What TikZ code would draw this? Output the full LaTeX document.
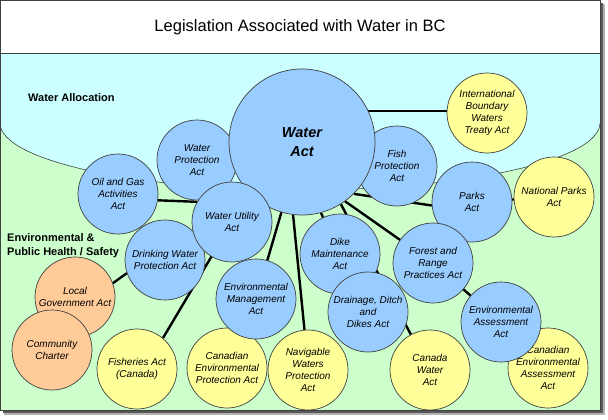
\documentclass[tikz,border=0pt]{standalone}
\usepackage{fontspec}
\setmainfont{Liberation Sans}
\definecolor{cblue}{HTML}{99CCFF}
\definecolor{cyellow}{HTML}{FFFF99}
\definecolor{corange}{HTML}{FFCC99}
\definecolor{ccyan}{HTML}{CCFFFF}
\definecolor{cgreen}{HTML}{CCFFCC}
\definecolor{outl}{HTML}{404040}
\pgfdeclarelayer{bg}
\pgfdeclarelayer{lines}
\pgfsetlayers{bg,lines,main}
\tikzset{
  act/.style={circle, draw=outl, line width=0.7pt, minimum size=80pt, inner sep=0pt, align=center, font=\fontsize{10}{12}\selectfont\itshape},
  blueact/.style={act, fill=cblue},
  yellowact/.style={act, fill=cyellow},
  orangeact/.style={act, fill=corange},
  link/.style={line width=2.4pt, black},
  sect/.style={font=\fontsize{11}{14}\selectfont\bfseries, inner sep=0pt, align=left}
}
\begin{document}
\begin{tikzpicture}[x=1pt,y=1pt]
\useasboundingbox (0,0) rectangle (608,-420);
\begin{pgfonlayer}{bg}
  \fill[black!30] (4,-4) rectangle (605,-415);
  \fill[black!65] (3,-3) rectangle (603,-413);
  \fill[cgreen] (0,0) rectangle (600,-410);
  \fill[ccyan] (0,-53) -- (600,-53) -- (600,-123) arc[start angle=0,end angle=-180,x radius=300,y radius=67] -- cycle;
  \draw[outl, line width=0.6pt] (600,-123) arc[start angle=0,end angle=-180,x radius=300,y radius=67];
  \fill[white] (0,0) rectangle (600,-53);
  \draw[outl, line width=0.6pt] (0,-53) -- (600,-53);
  \draw[outl, line width=0.8pt] (0.4,-0.4) rectangle (600,-410);
\end{pgfonlayer}

\node (title) at (300,-27) {\fontsize{16.5}{19}\selectfont Legislation Associated with Water in BC};
\node[sect, anchor=west] (alloc) at (28,-98) {Water Allocation};
\node[sect, anchor=west] (envh) at (7,-246) {Environmental \&\\Public Health / Safety};

% yellow and orange
\node[yellowact] (intl) at (487,-113) {International\\Boundary\\Waters\\Treaty Act};
\node[yellowact] (np) at (554,-197) {National Parks\\Act};
\node[yellowact] (fisheries) at (137,-369) {Fisheries Act\\(Canada)};
\node[yellowact] (cep) at (227,-368) {Canadian\\Environmental\\Protection Act};
\node[yellowact] (nav) at (308,-370) {Navigable\\Waters\\Protection\\Act};
\node[yellowact] (cw) at (430,-370) {Canada\\Water\\Act};
\node[yellowact] (cea) at (548,-368) {Canadian\\Environmental\\Assessment\\Act};
\node[orangeact] (local) at (75,-297) {Local\\Government Act};
\node[orangeact] (comm) at (52,-350) {Community\\Charter};

% blue
\node[blueact] (wp) at (197,-160) {Water\\Protection\\Act};
\node[blueact] (fish) at (397,-166) {Fish\\Protection\\Act};
\node[blueact, minimum size=146pt, font=\fontsize{14.5}{19}\selectfont\bfseries\itshape] (wa) at (302,-142) {Water\\Act};
\node[blueact] (oil) at (118,-194) {Oil and Gas\\Activities\\Act};
\node[blueact] (drink) at (165,-260) {Drinking Water\\Protection Act};
\node[blueact] (util) at (232,-222) {Water Utility\\Act};
\node[blueact] (envm) at (256,-299) {Environmental\\Management\\Act};
\node[blueact] (parks) at (472,-202) {Parks\\Act};
\node[blueact] (dike) at (340,-254) {Dike\\Maintenance\\Act};
\node[blueact] (drain) at (368,-312) {Drainage, Ditch\\and\\Dikes Act};
\node[blueact] (forest) at (433,-263) {Forest and\\Range\\Practices Act};
\node[blueact] (ea) at (501,-322) {Environmental\\Assessment\\Act};

\begin{pgfonlayer}{lines}
  \draw[link] (wa.25) -- (wa.25 -| intl.west);
  \draw[link] (wa.-45) -- (parks.185);
  \draw[link] (wa.-54) -- (forest.center);
  \draw[link] (forest.center) -- (ea.center);
  \draw[link] (wa.-58) -- (cw.center);
  \draw[link] (wa.-75) -- (dike.center);
  \draw[link] (wa.center) -- (envm.center);
  \draw[link] (wa.263) -- (nav.95);
  \draw[link] (util.center) -- (fisheries.50);
  \draw[link] (oil.-9) -- (util.150);
  \draw[link] (drink.199) -- (local.20);
  \draw[link] (parks.center) -- (np.center);
\end{pgfonlayer}
\end{tikzpicture}
\end{document}
